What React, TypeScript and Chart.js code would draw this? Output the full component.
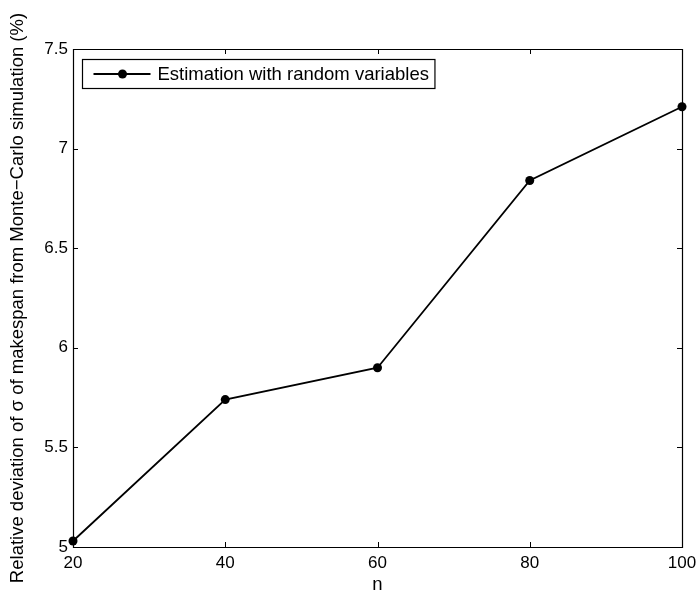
import React, { useEffect, useRef } from "react";
import { Chart, registerables } from "chart.js";

Chart.register(...registerables);

const nValues = [20, 40, 60, 80, 100];
const deviation = [5.03, 5.74, 5.9, 6.84, 7.21];
const seriesLabel = "Estimation with random variables";
const xTitle = "n";
const yTitle = "Relative deviation of \u03c3 of makespan from Monte\u2212Carlo simulation (%)";

const FONT = "'Liberation Sans', Arial, Helvetica, sans-serif";
const FS = 17;
const TFS = 18.5;

const framePlugin = {
  id: "matlabFrame",
  afterDraw(chart: any) {
    const { ctx, chartArea: a, scales } = chart;
    const xs = scales.x;
    const ys = scales.y;
    const tl = 5;
    ctx.save();
    ctx.strokeStyle = "#000";
    ctx.lineWidth = 1.2;
    ctx.beginPath();
    ctx.rect(a.left + 0.5, a.top + 0.5, a.right - a.left, a.bottom - a.top);
    ctx.stroke();
    ctx.lineWidth = 1;
    ctx.beginPath();
    xs.ticks.forEach((t: any) => {
      const px = Math.round(xs.getPixelForValue(t.value)) + 0.5;
      ctx.moveTo(px, a.bottom);
      ctx.lineTo(px, a.bottom - tl);
      ctx.moveTo(px, a.top);
      ctx.lineTo(px, a.top + tl);
    });
    ys.ticks.forEach((t: any) => {
      const py = Math.round(ys.getPixelForValue(t.value)) + 0.5;
      ctx.moveTo(a.left, py);
      ctx.lineTo(a.left + tl, py);
      ctx.moveTo(a.right, py);
      ctx.lineTo(a.right - tl, py);
    });
    ctx.stroke();

    // legend
    const label = chart.data.datasets[0].label;
    ctx.font = `${TFS}px ${FONT}`;
    const tw = ctx.measureText(label).width;
    const bx = a.left + 9.5;
    const by = a.top + 10.5;
    const textX = bx + 75;
    const bw = textX - bx + tw + 6;
    const bh = 29;
    ctx.fillStyle = "#fff";
    ctx.fillRect(bx, by, bw, bh);
    ctx.lineWidth = 1.2;
    ctx.strokeRect(bx, by, bw, bh);
    const cy = by + bh / 2;
    ctx.lineWidth = 1.8;
    ctx.beginPath();
    ctx.moveTo(bx + 11, cy);
    ctx.lineTo(bx + 68, cy);
    ctx.stroke();
    ctx.fillStyle = "#000";
    ctx.beginPath();
    ctx.arc(bx + 40, cy, 4.5, 0, Math.PI * 2);
    ctx.fill();
    ctx.textBaseline = "middle";
    ctx.textAlign = "left";
    ctx.fillText(label, textX, cy + 1);
    ctx.restore();
  },
};

export default function App() {
  const ref = useRef<HTMLCanvasElement | null>(null);
  useEffect(() => {
    if (!ref.current) return;
    const chart = new Chart(ref.current, {
      type: "line",
      data: {
        datasets: [
          {
            label: seriesLabel,
            data: nValues.map((n, i) => ({ x: n, y: deviation[i] })),
            borderColor: "#000",
            backgroundColor: "#000",
            borderWidth: 1.8,
            pointRadius: 4.5,
            pointBackgroundColor: "#000",
            pointBorderWidth: 0,
            tension: 0,
            clip: false,
          },
        ],
      },
      options: {
        animation: false,
        responsive: false,
        layout: { padding: { top: 49, right: 18, left: 0, bottom: 0 } },
        plugins: { legend: { display: false }, tooltip: { enabled: false } },
        scales: {
          x: {
            type: "linear",
            min: 20,
            max: 100,
            grid: { display: false, drawTicks: false },
            border: { display: false },
            ticks: {
              stepSize: 20,
              color: "#000",
              padding: 6,
              maxRotation: 0,
              font: { family: FONT, size: FS },
            },
            title: {
              display: true,
              text: xTitle,
              color: "#000",
              padding: 0,
              font: { family: FONT, size: TFS },
            },
            afterFit: (s: any) => {
              s.height = 49;
              s.paddingLeft = 0;
              s.paddingRight = 0;
            },
          },
          y: {
            type: "linear",
            min: 5,
            max: 7.5,
            grid: { display: false, drawTicks: false },
            border: { display: false },
            ticks: {
              stepSize: 0.5,
              color: "#000",
              padding: 5,
              font: { family: FONT, size: FS },
              callback: (v: any) => String(v),
            },
            title: {
              display: true,
              text: yTitle,
              color: "#000",
              padding: { top: 7, bottom: 0 },
              font: { family: FONT, size: TFS },
            },
            afterFit: (s: any) => {
              s.width = 73;
              s.paddingTop = 0;
              s.paddingBottom = 0;
            },
          },
        },
      },
      plugins: [framePlugin],
    });
    return () => chart.destroy();
  }, []);
  return (
    <div style={{ position: "fixed", left: 0, top: 0, width: 700, height: 596, background: "#fff" }}>
      <canvas ref={ref} width={700} height={596} style={{ display: "block" }} />
    </div>
  );
}
